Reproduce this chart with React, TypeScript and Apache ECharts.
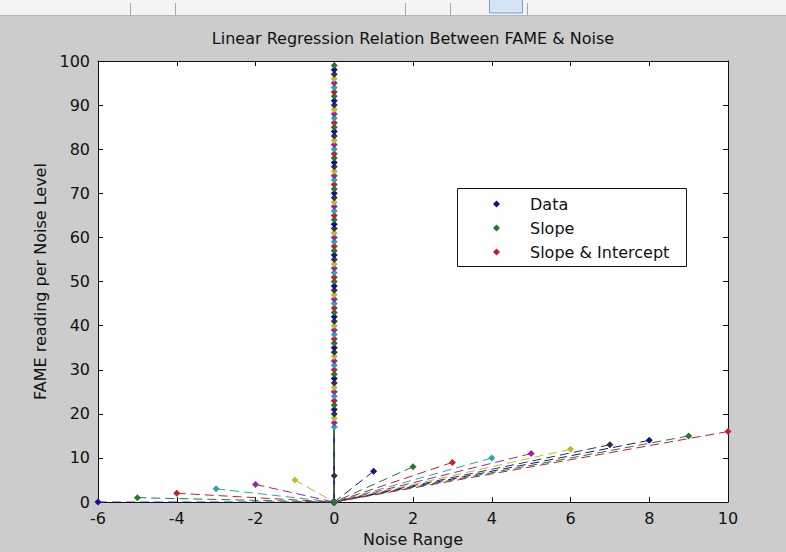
import React, { useEffect, useRef } from "react";
import * as echarts from "echarts";

// Noise range (x) of each reading; readings beyond the 17th all sit at noise 0
const noiseX = [
  -6, -5, -4, -3, -2, -1, 0, 1, 2, 3, 4, 5, 6, 7, 8, 9, 10,
  0, 0, 0, 0, 0, 0, 0, 0, 0, 0,
  0, 0, 0, 0, 0, 0, 0, 0, 0, 0,
  0, 0, 0, 0, 0, 0, 0, 0, 0, 0,
  0, 0, 0, 0, 0, 0, 0, 0, 0, 0,
  0, 0, 0, 0, 0, 0, 0, 0, 0, 0,
  0, 0, 0, 0, 0, 0, 0, 0, 0, 0,
  0, 0, 0, 0, 0, 0, 0, 0, 0, 0,
  0, 0, 0, 0, 0, 0, 0, 0, 0, 0,
  0, 0, 0,
];

// FAME reading per noise level
const fameY = [
  0, 1, 2, 3, 4, 5, 6, 7, 8, 9, 10, 11, 12, 13, 14, 15, 16,
  17, 18, 19, 20, 21, 22, 23, 24, 25, 26,
  27, 28, 29, 30, 31, 32, 33, 34, 35, 36,
  37, 38, 39, 40, 41, 42, 43, 44, 45, 46,
  47, 48, 49, 50, 51, 52, 53, 54, 55, 56,
  57, 58, 59, 60, 61, 62, 63, 64, 65, 66,
  67, 68, 69, 70, 71, 72, 73, 74, 75, 76,
  77, 78, 79, 80, 81, 82, 83, 84, 85, 86,
  87, 88, 89, 90, 91, 92, 93, 94, 95, 96,
  97, 98, 99,
];

const origin = [0, 0];
const legendNames = ["Data", "Slope", "Slope & Intercept"];
const xTicks = { min: -6, max: 10, interval: 2 };
const yTicks = { min: 0, max: 100, interval: 10 };

const title = "Linear Regression Relation Between FAME & Noise";
const xName = "Noise Range";
const yName = "FAME reading per Noise Level";

const colorOrder = ["#12128f", "#1f7a2f", "#c41e30", "#27a9a9", "#a020a6", "#bcbc22", "#33334a"];
const FONT = "DejaVu Sans";

export default function App() {
  const ref = useRef<HTMLDivElement>(null);

  useEffect(() => {
    document.body.style.margin = "0";
    if (!ref.current) return;
    const chart = echarts.init(ref.current, undefined, { renderer: "svg" });

    const series = noiseX.map((x, i) => {
      const c = colorOrder[i % colorOrder.length];
      return {
        type: "line",
        name: i < legendNames.length ? legendNames[i] : "reading " + fameY[i],
        data: [[x, fameY[i]], origin],
        symbol: "diamond",
        symbolSize: 7,
        showSymbol: true,
        lineStyle: { color: c, width: 1, type: [9, 5] },
        itemStyle: { color: c },
        silent: true,
        z: 2,
      };
    });

    const axisCommon = {
      axisLine: { show: true, onZero: false, lineStyle: { color: "#111", width: 1 } },
      axisTick: { show: true, inside: true, length: 5, lineStyle: { color: "#111" } },
      splitLine: { show: false },
    };

    chart.setOption({
      animation: false,
      backgroundColor: "#cccccc",
      textStyle: { fontFamily: FONT },
      title: {
        text: title,
        left: 413,
        top: 30,
        padding: 0,
        textAlign: "center",
        textStyle: { fontFamily: FONT, fontSize: 16, fontWeight: "normal", color: "#111" },
      },
      grid: {
        left: 98,
        right: 58,
        top: 61,
        bottom: 47,
        show: true,
        backgroundColor: "#ffffff",
        borderWidth: 0,
      },
      legend: {
        data: legendNames,
        orient: "vertical",
        left: 457,
        top: 188,
        padding: [8, 10, 6, 36],
        itemGap: 8,
        icon: "diamond",
        itemWidth: 7,
        itemHeight: 7,
        selectedMode: false,
        z: 10,
        formatter: (n: string) => "{t|" + n + "}",
        textStyle: {
          fontFamily: FONT,
          fontSize: 16,
          color: "#111",
          rich: { t: { fontFamily: FONT, fontSize: 16, color: "#111", padding: [0, 0, 0, 25] } },
        },
      },
      graphic: [
        { type: "rect", z: 0, shape: { x: 0, y: 0, width: 786, height: 15 }, style: { fill: "#f4f4f4" } },
        { type: "line", z: 1, shape: { x1: 0, y1: 15.5, x2: 786, y2: 15.5 }, style: { stroke: "#b4b4b4", lineWidth: 1 } },
        { type: "line", z: 1, shape: { x1: 130.5, y1: 3, x2: 130.5, y2: 15 }, style: { stroke: "#a8a8a8", lineWidth: 1 } },
        { type: "line", z: 1, shape: { x1: 175.5, y1: 3, x2: 175.5, y2: 15 }, style: { stroke: "#a8a8a8", lineWidth: 1 } },
        { type: "line", z: 1, shape: { x1: 405.5, y1: 3, x2: 405.5, y2: 15 }, style: { stroke: "#a8a8a8", lineWidth: 1 } },
        { type: "line", z: 1, shape: { x1: 450.5, y1: 3, x2: 450.5, y2: 15 }, style: { stroke: "#a8a8a8", lineWidth: 1 } },
        { type: "line", z: 1, shape: { x1: 527.5, y1: 3, x2: 527.5, y2: 15 }, style: { stroke: "#a8a8a8", lineWidth: 1 } },
        { type: "rect", z: 1, shape: { x: 489.5, y: -1, width: 33, height: 14 }, style: { fill: "#d4e4f6", stroke: "#7d9fcb", lineWidth: 1 } },
        { type: "rect", z: 5, shape: { x: 457.5, y: 188.5, width: 229, height: 78 }, style: { fill: "#ffffff", stroke: "#111", lineWidth: 1 } },
      ],
      xAxis: [
        {
          type: "value",
          position: "bottom",
          ...xTicks,
          ...axisCommon,
          name: xName,
          nameLocation: "middle",
          nameGap: 28,
          nameTextStyle: { fontFamily: FONT, fontSize: 16, color: "#111" },
          axisLabel: { fontFamily: FONT, fontSize: 16, color: "#111", margin: 8 },
        },
        {
          type: "value",
          position: "top",
          ...xTicks,
          ...axisCommon,
          axisLabel: { show: false },
        },
      ],
      yAxis: [
        {
          type: "value",
          position: "left",
          ...yTicks,
          ...axisCommon,
          name: yName,
          nameLocation: "middle",
          nameGap: 50,
          nameTextStyle: { fontFamily: FONT, fontSize: 16, color: "#111" },
          axisLabel: { fontFamily: FONT, fontSize: 16, color: "#111", margin: 8 },
        },
        {
          type: "value",
          position: "right",
          ...yTicks,
          ...axisCommon,
          axisLabel: { show: false },
        },
      ],
      series,
    });

    return () => chart.dispose();
  }, []);

  return <div ref={ref} style={{ width: 786, height: 552 }} />;
}
